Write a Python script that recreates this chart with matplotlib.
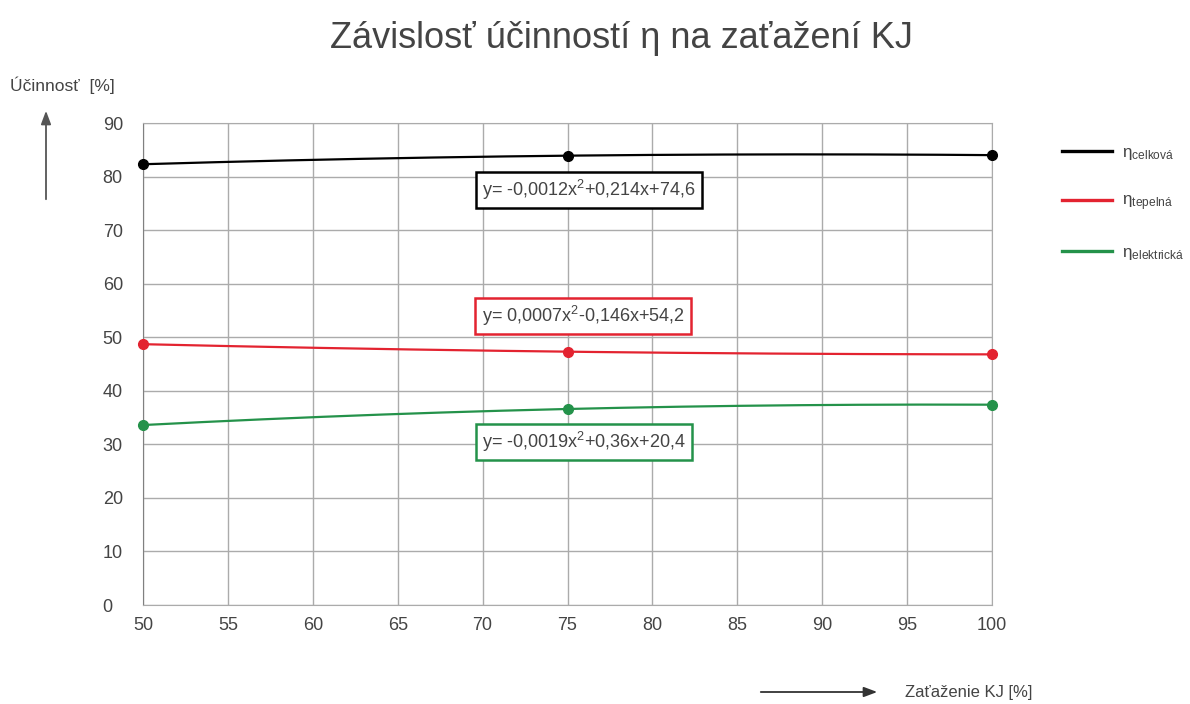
import matplotlib.pyplot as plt
import numpy as np

plt.rcParams['font.family'] = ['Liberation Sans', 'DejaVu Sans']
plt.rcParams['mathtext.fontset'] = 'custom'
plt.rcParams['mathtext.rm'] = 'Liberation Sans'
plt.rcParams['mathtext.it'] = 'Liberation Sans'

# data
load = [50, 75, 100]
eta_celkova = [82.3, 83.9, 84.0]
eta_tepelna = [48.7, 47.3, 46.8]
eta_elektricka = [33.6, 36.6, 37.4]

labels = ['η$_{\\mathrm{celková}}$', 'η$_{\\mathrm{tepelná}}$', 'η$_{\\mathrm{elektrická}}$']
equations = ['y= -0,0012x$^2$+0,214x+74,6',
             'y= 0,0007x$^2$-0,146x+54,2',
             'y= -0,0019x$^2$+0,36x+20,4']
colors = ['#000000', '#e32330', '#24924a']
eq_pos = [(589, 190), (583, 316), (584, 442)]  # pixel centres of the boxes

txt = '#444444'
grid = '#ababab'

fig = plt.figure(figsize=(11.9, 7.04), dpi=100)
ax = fig.add_axes([143/1190, 1 - 605/704, (992-143)/1190, (605-123)/704])

series = [eta_celkova, eta_tepelna, eta_elektricka]
xs = np.linspace(50, 100, 200)
for vals, lab, col in zip(series, labels, colors):
    # quadratic trendline through the points
    fit = np.poly1d(np.polyfit(load, vals, 2))
    ax.plot(xs, fit(xs), color=col, lw=1.6, label=lab, zorder=3)
    ax.plot(load, vals, 'o', color=col, ms=7, zorder=4, clip_on=False)

ax.set_xlim(50, 100)
ax.set_ylim(0, 90)
ax.set_xticks(range(50, 101, 5))
ax.set_yticks(range(0, 91, 10))
ax.grid(True, color=grid, lw=1)
ax.set_axisbelow(True)
for s in ax.spines.values():
    s.set_color(grid)
ax.spines['left'].set_color('#808080')
ax.tick_params(axis='both', length=0, labelsize=13, colors=txt)
ax.tick_params(axis='y', pad=29)
ax.tick_params(axis='x', pad=9)
for t in ax.get_yticklabels():
    t.set_horizontalalignment('left')

for eq, (px, py), col in zip(equations, eq_pos, colors):
    fig.text(px/1190, 1 - py/704, eq, ha='center', va='center', fontsize=13, color=txt,
             bbox=dict(boxstyle='square,pad=0.35', fc='white', ec=col, lw=1.8))

leg = fig.legend(*ax.get_legend_handles_labels(), loc='upper left',
                 bbox_to_anchor=(1062/1190, 1 - 145/704), frameon=False,
                 handlelength=2.9, handletextpad=0.6, labelspacing=1.85,
                 fontsize=12.3, borderpad=0, borderaxespad=0)
for t in leg.get_texts():
    t.set_color(txt)
for l in leg.get_lines():
    l.set_linewidth(2.4)

fig.text(621/1190, 1 - 38/704, 'Závislosť účinností η na zaťažení KJ',
         ha='center', va='center', fontsize=26, color=txt)
fig.text(10/1190, 1 - 85/704, 'Účinnosť  [%]', ha='left', va='center', fontsize=12.5, color=txt)
fig.text(905/1190, 1 - 692/704, 'Zaťaženie KJ [%]', ha='left', va='center', fontsize=12, color=txt)

ax.annotate('', xy=(46/1190, 1 - 108/704), xytext=(46/1190, 1 - 202/704),
            xycoords='figure fraction', textcoords='figure fraction',
            arrowprops=dict(arrowstyle='-|>,head_length=0.8,head_width=0.3', color='#555555', lw=1.3))
ax.annotate('', xy=(880/1190, 1 - 692/704), xytext=(758/1190, 1 - 692/704),
            xycoords='figure fraction', textcoords='figure fraction',
            arrowprops=dict(arrowstyle='-|>,head_length=0.8,head_width=0.3', color='#333333', lw=1.3))

fig.savefig('out.png', dpi=100)
